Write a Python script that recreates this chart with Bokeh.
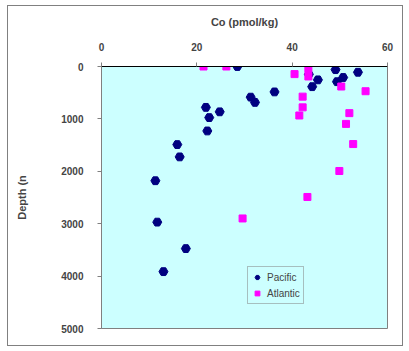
from bokeh.plotting import figure
from bokeh.models import Range1d, FixedTicker, Legend, LegendItem, InlineStyleSheet
from bokeh.embed import file_html
from bokeh.resources import INLINE

pacific_co = [28.5, 49.1, 53.8, 43.5, 50.7, 45.4, 49.4, 44.2, 36.3, 31.3, 32.2,
              21.9, 24.8, 22.6, 22.2, 15.9, 16.4, 11.3, 11.7, 17.7, 13.0]
pacific_depth = [0, 60, 110, 150, 210, 255, 290, 385, 485, 585, 685,
                 780, 865, 975, 1230, 1490, 1725, 2180, 2970, 3475, 3915]

atlantic_co = [21.4, 26.2, 43.4, 40.5, 43.4, 50.3, 55.4, 42.2, 42.2, 52.0, 41.5,
               51.3, 52.8, 49.9, 43.2, 29.6]
atlantic_depth = [0, 0, 48, 145, 190, 382, 472, 575, 780, 890, 935,
                  1095, 1480, 1994, 2490, 2900]

x_ticks = [0, 20, 40, 60]
y_ticks = [0, 1000, 2000, 3000, 4000, 5000]

FONT = "Liberation Sans"

p = figure(width=396, height=341, output_backend="svg", toolbar_location=None,
           x_axis_location="above", x_range=Range1d(0, 60), y_range=Range1d(5000, 0),
           min_border_left=93, min_border_top=60, min_border_right=17, min_border_bottom=19)
p.margin = (5, 0, 0, 7)
p.stylesheets = [InlineStyleSheet(css=":host { border: 1px solid #808080; }")]

p.background_fill_color = "#CCFFFF"
p.border_fill_color = "white"
p.outline_line_color = "#808080"
p.grid.visible = False

xa = p.xaxis[0]
xa.ticker = FixedTicker(ticks=x_ticks)
xa.axis_label = "Co (pmol/kg)"
xa.axis_label_text_font = FONT
xa.axis_label_text_font_style = "bold"
xa.axis_label_text_font_size = "11px"
xa.axis_label_standoff = 12
xa.major_label_text_font = FONT
xa.major_label_text_font_style = "bold"
xa.major_label_text_font_size = "10px"
xa.major_label_standoff = 12
xa.axis_line_color = "black"
xa.major_tick_line_color = "#808080"
xa.major_tick_out = 4
xa.major_tick_in = 0
xa.minor_tick_line_color = None

ya = p.yaxis[0]
ya.ticker = FixedTicker(ticks=y_ticks)
ya.axis_label = "Depth (n"
ya.axis_label_text_font = FONT
ya.axis_label_text_font_style = "bold"
ya.axis_label_text_font_size = "11px"
ya.axis_label_standoff = 30
ya.major_label_text_font = FONT
ya.major_label_text_font_style = "bold"
ya.major_label_text_font_size = "10px"
ya.major_label_standoff = 14
ya.axis_line_color = "#808080"
ya.major_tick_line_color = "#808080"
ya.major_tick_out = 4
ya.major_tick_in = 0
ya.minor_tick_line_color = None

r_pac = p.scatter(pacific_co, pacific_depth, marker="hex", size=9,
                  fill_color="#000080", line_color="#000080")
r_atl = p.scatter(atlantic_co, atlantic_depth, marker="square", size=7,
                  fill_color="#FF00FF", line_color="#FF00FF")

legend = Legend(items=[LegendItem(label="Pacific", renderers=[r_pac]),
                       LegendItem(label="Atlantic", renderers=[r_atl])],
                location=(146, 24))
legend.label_text_font = FONT
legend.label_text_font_size = "10px"
legend.background_fill_color = "#CCFFFF"
legend.background_fill_alpha = 1
legend.border_line_color = "#808080"
legend.padding = 3
legend.spacing = 2
legend.margin = 0
legend.glyph_width = 12
legend.glyph_height = 14
legend.label_standoff = 4
legend.label_height = 14
p.add_layout(legend)

open("out.html", "w").write(file_html(p, INLINE))
